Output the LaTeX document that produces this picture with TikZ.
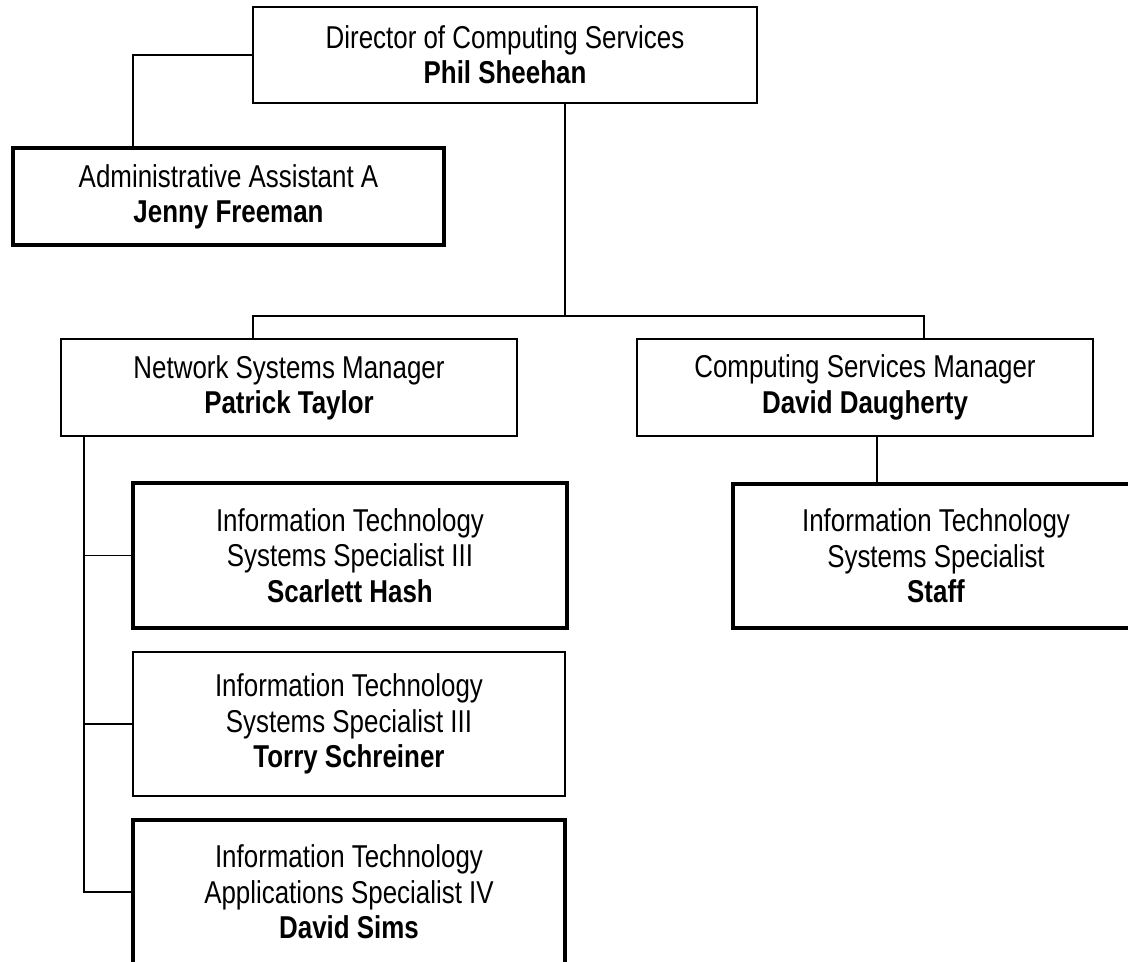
\documentclass[tikz,border=0pt]{standalone}
\usepackage{fontspec}
\setmainfont{Liberation Sans}[FakeStretch=0.82]
\begin{document}
\begin{tikzpicture}[x=0.75pt,y=-0.75pt,
  every node/.style={inner sep=0pt, align=center, font=\fontsize{23.7pt}{26.5pt}\selectfont},
  thinbox/.style={draw, line width=1.1pt, rectangle},
  thickbox/.style={draw, line width=2.3pt, rectangle},
  link/.style={draw, line width=1.1pt}]
\useasboundingbox (0,0) rectangle (1128,961);
\clip (0,0) rectangle (1128,961);

% positions
\node[thinbox, minimum width=378pt, minimum height=72pt] (dir) at (505,55)
  {Director of Computing Services\\\textbf{Phil Sheehan}};
\node[thickbox, minimum width=323.25pt, minimum height=72.75pt] (admin) at (228.5,196.5)
  {Administrative Assistant A\\\textbf{Jenny Freeman}};
\node[thinbox, minimum width=342pt, minimum height=72.75pt] (net) at (289,387.5)
  {Network Systems Manager\\\textbf{Patrick Taylor}};
\node[thinbox, minimum width=342pt, minimum height=72.75pt] (comp) at (865,387.5)
  {Computing Services Manager\\\textbf{David Daugherty}};
\node[thickbox, minimum width=325.5pt, minimum height=108.75pt] (scar) at (350,555.5)
  {Information Technology\\Systems Specialist III\\\textbf{Scarlett Hash}};
\node[thinbox, minimum width=324pt, minimum height=108pt] (torry) at (349,724)
  {Information Technology\\Systems Specialist III\\\textbf{Torry Schreiner}};
\node[thickbox, minimum width=324pt, minimum height=108pt] (sims) at (349,892)
  {Information Technology\\Applications Specialist IV\\\textbf{David Sims}};
\node[thickbox, minimum width=304.5pt, minimum height=108pt] (staff) at (936,556)
  {Information Technology\\Systems Specialist\\\textbf{Staff}};

% routing points
\coordinate (ax) at (133,0);
\coordinate (bus) at (565,316);
\coordinate (busL) at (253,316);
\coordinate (busR) at (924,316);
\coordinate (sx) at (877,0);
\coordinate (tx) at (84,0);

% connectors
\draw[link] (dir.west) -| (admin.north -| ax);
\draw[link] (dir.south -| bus) -- (bus);
\draw[link] (net.north -| busL) -- (busL) -- (busR) -- (comp.north -| busR);
\draw[link] (comp.south -| sx) -- (staff.north -| sx);
\draw[link] (net.south -| tx) -- (sims.west -| tx) -- (sims.west);
\draw[link] (scar.west -| tx) -- (scar.west);
\draw[link] (torry.west -| tx) -- (torry.west);
\end{tikzpicture}
\end{document}
